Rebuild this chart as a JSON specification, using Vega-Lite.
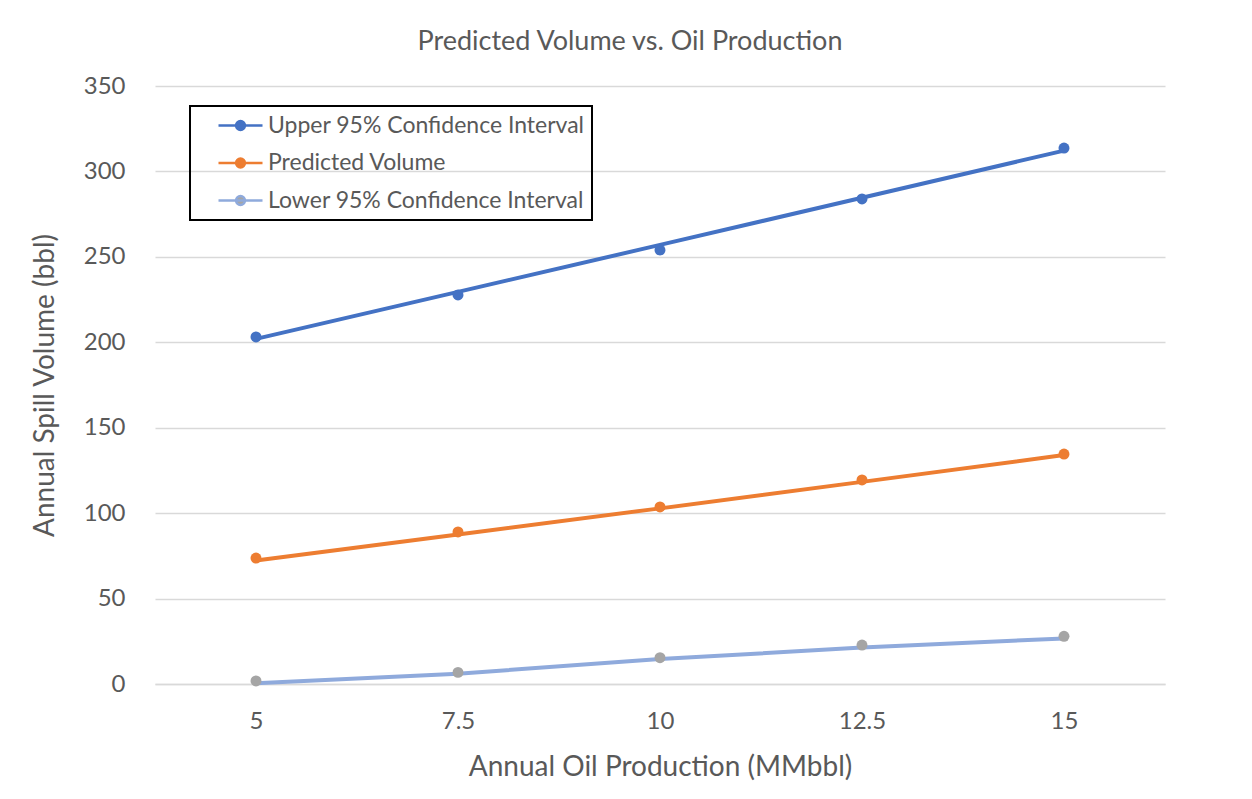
{
  "$schema": "https://vega.github.io/schema/vega-lite/v6.json",
  "autosize": {"type": "none"},
  "width": 1010,
  "height": 598,
  "padding": {"left": 155, "top": 86, "right": 87, "bottom": 115},
  "background": "white",
  "title": {
    "text": "Predicted Volume vs. Oil Production",
    "font": "Lato",
    "fontSize": 27,
    "fontWeight": "normal",
    "color": "#595959",
    "anchor": "middle",
    "dx": -30,
    "offset": 18
  },
  "data": {
    "values": [
      {"production": "5", "series": "Upper 95% Confidence Interval", "volume": 203.1, "trend": 202.0},
      {"production": "7.5", "series": "Upper 95% Confidence Interval", "volume": 227.7, "trend": 229.5},
      {"production": "10", "series": "Upper 95% Confidence Interval", "volume": 254.0, "trend": 257.0},
      {"production": "12.5", "series": "Upper 95% Confidence Interval", "volume": 283.9, "trend": 284.6},
      {"production": "15", "series": "Upper 95% Confidence Interval", "volume": 313.7, "trend": 312.2},
      {"production": "5", "series": "Predicted Volume", "volume": 73.7, "trend": 72.3},
      {"production": "7.5", "series": "Predicted Volume", "volume": 89.0, "trend": 87.5},
      {"production": "10", "series": "Predicted Volume", "volume": 103.6, "trend": 102.8},
      {"production": "12.5", "series": "Predicted Volume", "volume": 119.4, "trend": 118.3},
      {"production": "15", "series": "Predicted Volume", "volume": 134.6, "trend": 134.0},
      {"production": "5", "series": "Lower 95% Confidence Interval", "volume": 1.8, "trend": 0.5},
      {"production": "7.5", "series": "Lower 95% Confidence Interval", "volume": 6.8, "trend": 6.0},
      {"production": "10", "series": "Lower 95% Confidence Interval", "volume": 15.4, "trend": 14.6},
      {"production": "12.5", "series": "Lower 95% Confidence Interval", "volume": 22.8, "trend": 21.3},
      {"production": "15", "series": "Lower 95% Confidence Interval", "volume": 27.9, "trend": 26.7}
    ]
  },
  "encoding": {
    "x": {
      "field": "production",
      "type": "ordinal",
      "sort": ["5", "7.5", "10", "12.5", "15"],
      "scale": {"type": "point", "padding": 0.5},
      "axis": {
        "title": "Annual Oil Production (MMbbl)",
        "labelAngle": 0,
        "grid": false,
        "ticks": false,
        "domain": true,
        "domainColor": "#d9d9d9",
        "domainWidth": 1.5,
        "labelPadding": 25,
        "titleY": 83,
        "titleBaseline": "middle"
      }
    }
  },
  "layer": [
    {
      "mark": {"type": "line", "strokeWidth": 4, "strokeCap": "round"},
      "encoding": {
        "y": {
          "field": "trend",
          "type": "quantitative",
          "scale": {"domain": [0, 350]},
          "axis": {
            "title": "Annual Spill Volume (bbl)",
            "values": [0, 50, 100, 150, 200, 250, 300, 350],
            "grid": true,
            "gridColor": "#d9d9d9",
            "gridWidth": 1.5,
            "domain": false,
            "ticks": false,
            "labelPadding": 30,
            "titleX": -110,
            "titleY": 299,
            "titleAngle": -90,
            "titleAlign": "center",
            "titleBaseline": "middle"
          }
        },
        "stroke": {
          "field": "series",
          "type": "nominal",
          "scale": {
            "domain": ["Upper 95% Confidence Interval", "Predicted Volume", "Lower 95% Confidence Interval"],
            "range": ["#4472C4", "#ED7D31", "#8FAADC"]
          },
          "legend": {
            "title": null,
            "orient": "none",
            "legendX": 35,
            "legendY": 20,
            "encode": {"symbols": {"update": {"fill": {"scale": "fill", "field": "value"}}}}
          }
        },
        "detail": {"field": "series"}
      }
    },
    {
      "mark": {"type": "point", "shape": "circle", "filled": true, "size": 120, "opacity": 1, "strokeWidth": 0},
      "encoding": {
        "y": {"field": "volume", "type": "quantitative"},
        "fill": {
          "field": "series",
          "type": "nominal",
          "scale": {
            "domain": ["Upper 95% Confidence Interval", "Predicted Volume", "Lower 95% Confidence Interval"],
            "range": ["#4472C4", "#ED7D31", "#A5A5A5"]
          },
          "legend": {
            "title": null,
            "orient": "none",
            "legendX": 35,
            "legendY": 20,
            "encode": {"symbols": {"update": {"fill": {"scale": "fill", "field": "value"}}}}
          }
        }
      }
    }
  ],
  "config": {
    "font": "Lato",
    "view": {"stroke": null},
    "axis": {
      "labelFont": "Lato",
      "labelFontSize": 24,
      "labelColor": "#595959",
      "titleFont": "Lato",
      "titleFontSize": 28,
      "titleFontWeight": "normal",
      "titleColor": "#595959"
    },
    "legend": {
      "strokeColor": "black",
      "strokeWidth": 2,
      "padding": 7,
      "labelFont": "Lato",
      "labelFontSize": 23,
      "labelColor": "#595959",
      "labelLimit": 400,
      "labelOffset": 15,
      "symbolOffset": 31,
      "symbolType": "M-2,0L2,0M-0.4,0A0.4,0.4 0 1,1 0.4,0A0.4,0.4 0 1,1 -0.4,0",
      "symbolSize": 484,
      "symbolStrokeWidth": 2.5,
      "symbolOpacity": 1,
      "rowPadding": 12.5
    }
  }
}
